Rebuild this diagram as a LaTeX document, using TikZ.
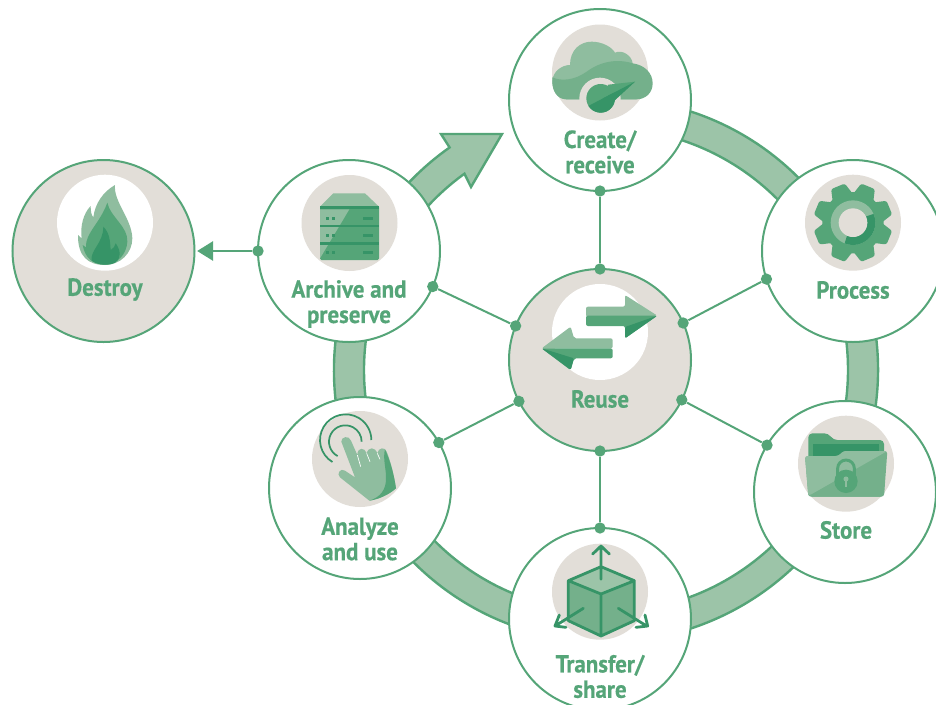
\documentclass[tikz,border=0pt]{standalone}
\usepackage{fontspec}
\setmainfont{PT Sans}[FakeStretch=0.93,BoldFeatures={FakeBold=0.5}]
\usetikzlibrary{
  	calc,
  	arrows.meta
  }
\definecolor{lineGreen}{HTML}{55A578}
\definecolor{bandGreen}{HTML}{9CC4A8}
\definecolor{paleGreen}{HTML}{8FBD9F}
\definecolor{midGreen}{HTML}{74B08B}
\definecolor{darkGreen}{HTML}{369467}
\definecolor{stone}{HTML}{E2DED8}
\tikzstyle{stage}=[circle,draw=lineGreen,line width=1.5pt,fill=white,minimum size=136.5pt,inner sep=0pt,outer sep=0pt]
\tikzstyle{disc}=[circle,fill=stone,minimum size=72pt,inner sep=0pt]
\tikzstyle{joint}=[circle,fill=lineGreen,minimum size=8.5pt,inner sep=0pt]
\tikzstyle{spoke}=[draw=lineGreen,line width=1.5pt]
\tikzstyle{caption}=[text=lineGreen,align=center,inner sep=0pt,font=\bfseries\fontsize{18.5}{19}\selectfont]
\tikzset{zoomed/.style 2 args={shift={(#1,#2)},x=.25pt,y=-.25pt}}

\begin{document}
\begin{tikzpicture}[x=.75pt,y=-.75pt]
\useasboundingbox (0,0) rectangle (936,704);
\coordinate (ringc) at (606,370);
\draw [lineGreen, fill=bandGreen, line width=1.8pt]
   ($(ringc)+(-78:272)$) arc[start angle=78,end angle=-234.9,radius=204pt] --
   (441,134) -- (502,134) -- (471,187) --
   ($(ringc)+(-125.8:242)$) arc[start angle=-234.2,end angle=78,radius=181.5pt] --
   cycle;

\node[stage] (create) at (600,100) {};
\node[stage] (process) at (853,251) {};
\node[stage] (store) at (845,492) {};
\node[stage] (transfer) at (600,619) {};
\node[stage] (analyze) at (360,488) {};
\node[stage] (archive) at (349,251) {};
\node[stage,fill=stone] (reuse) at (600,360) {};
\node[stage,fill=stone] (destroy) at (103.5,251) {};

\node[joint] (j1) at (create.south) {};
\node[joint] (j2) at (reuse.north) {};
\node[joint] (j3) at (process.198) {};
\node[joint] (j4) at (reuse.24) {};
\node[joint] (j5) at (store.149) {};
\node[joint] (j6) at (reuse.-26) {};
\node[joint] (j7) at (transfer.north) {};
\node[joint] (j8) at (reuse.south) {};
\node[joint] (j9) at (analyze.30) {};
\node[joint] (j10) at (reuse.207) {};
\node[joint] (j11) at (archive.-23) {};
\node[joint] (j12) at (reuse.158) {};
\node[joint] (j13) at (archive.west) {};
\path[spoke] (j1) -- (j2);
\path[spoke] (j3) -- (j4);
\path[spoke] (j5) -- (j6);
\path[spoke] (j7) -- (j8);
\path[spoke] (j9) -- (j10);
\path[spoke] (j11) -- (j12);
\draw[lineGreen,line width=1.5pt,-{Triangle[length=12pt,width=14.5pt]},shorten >=2pt] (j13) -- (destroy.east);

\node[disc] (createicon) at (600,72.5) {};
\node[disc] (processicon) at (853,222.7) {};
\node[disc] (storeicon) at (846,463.7) {};
\node[disc] (transfericon) at (600,591.7) {};
\node[disc] (analyzeicon) at (360,459) {};
\node[disc] (archiveicon) at (349.5,223) {};
\node[disc,fill=white] (reuseicon) at (600,332) {};
\node[disc,fill=white] (destroyicon) at (105,222.7) {};

\node[caption] (createtext) at (600,152) {Create/\\receive};
\node[caption] (processtext) at (853,290) {Process};
\node[caption] (storetext) at (846,530) {Store};
\node[caption] (transfertext) at (600,676.5) {Transfer/\\share};
\node[caption] (analyzetext) at (360,539) {Analyze\\and use};
\node[caption] (archivetext) at (349,304) {Archive and\\preserve};
\node[caption] (reusetext) at (600,399) {Reuse};
\node[caption] (destroytext) at (105,289.5) {Destroy};

\begin{scope}[zoomed={500}{0}]
\fill[paleGreen] (200,298) .. controls (170,298) and (157,270) .. (157,245)
   .. controls (157,215) and (185,195) .. (210,195) .. controls (210,150) and (240,125) .. (275,125)
   .. controls (305,125) and (335,140) .. (345,158) .. controls (365,148) and (395,165) .. (398,190)
   -- (410,298) -- cycle;
\fill[midGreen] (157,232) .. controls (185,245) and (225,240) .. (260,215)
   .. controls (300,185) and (350,175) .. (398,190) .. controls (435,195) and (458,220) .. (458,250)
   .. controls (458,280) and (435,298) .. (410,298) -- (200,298)
   .. controls (170,298) and (157,270) .. (157,245) -- cycle;
\fill[stone] (300,295) circle[radius=15.5pt];
\fill[lineGreen] (325,254) -- (405,245) -- (345,300) -- (302,295) -- cycle;
\fill[lineGreen] (302,295) circle[radius=10.75pt];
\begin{scope}
\clip (265,318) -- (405,245) -- (420,360) -- (260,360) -- cycle;
\fill[darkGreen] (325,254) -- (405,245) -- (345,300) -- (302,295) -- cycle;
\fill[darkGreen] (302,295) circle[radius=10.75pt];
\end{scope}
\end{scope}

\begin{scope}[zoomed={0}{130}]
\fill[paleGreen] (345,165) .. controls (340,215) and (395,265) .. (397,325)
   .. controls (397,370) and (360,405) .. (315,405) .. controls (265,405) and (233,380) .. (234,315)
   -- (245,325) .. controls (240,290) and (250,250) .. (272,228) .. controls (272,245) and (274,255) .. (280,262)
   .. controls (285,220) and (310,185) .. (345,165) -- cycle;
\fill[lineGreen] (322,218) .. controls (330,260) and (385,290) .. (382,335)
   .. controls (380,375) and (350,403) .. (315,404) .. controls (280,404) and (255,385) .. (248,345)
   -- (258,352) .. controls (255,310) and (300,280) .. (322,218) -- cycle;
\fill[darkGreen] (310,290) .. controls (330,310) and (330,335) .. (332,360)
   .. controls (340,355) and (345,350) .. (347,340) .. controls (362,360) and (365,385) .. (345,398)
   .. controls (330,407) and (295,407) .. (275,392) .. controls (270,360) and (310,340) .. (310,290) -- cycle;
\end{scope}

\begin{scope}[zoomed={0}{130}]
\fill[paleGreen] (960,230) -- (1000,190) -- (1095,190) -- (1137,230) -- cycle;
\fill[lineGreen, rounded corners=1pt] (960,228) rectangle (1137,390);
\fill[paleGreen] (960,238) -- (1048,238) -- (960,385) -- cycle;
\foreach \y in {233,288,340} {
  \fill[darkGreen] (960,\y-4) rectangle (1137,\y+4);
}
\foreach \y in {265,316,367} {
  \fill[darkGreen] (979,\y-4) rectangle (988,\y+4);
  \fill[darkGreen] (996,\y-4) rectangle (1005,\y+4);
  \fill[darkGreen] (1090,\y-4) rectangle (1118,\y+4);
}
\end{scope}

\begin{scope}[zoomed={750}{160}]
\coordinate (gearc) at (309,188);
\fill[lineGreen] (gearc) circle[radius=23pt];
\foreach \a in {22.5,67.5,...,337.5} {
  \fill[lineGreen,rounded corners=1.6pt,shift={(gearc)},rotate=\a] (75,-34) -- (118,-22) -- (118,22) -- (75,34) -- cycle;
}
\fill[paleGreen] (gearc) circle[radius=16.75pt];
\draw[darkGreen,line width=6pt] ($(gearc)+(-24:55)$) arc[start angle=24,end angle=-113,radius=13.75pt];
\fill[stone] (gearc) circle[radius=10.75pt];
\end{scope}

\begin{scope}[zoomed={740}{390}]
\fill[lineGreen,rounded corners=3pt] (205,320) -- (205,130) -- (265,130) -- (280,150) -- (432,150) -- (432,320) -- cycle;
\fill[darkGreen] (220,162) rectangle (416,210);
\fill[midGreen,rounded corners=2pt] (205,320) -- (195,198) -- (295,198) -- (310,183) -- (442,183) -- (432,320) -- cycle;
\fill[paleGreen,rounded corners=2pt] (205,318) -- (195,198) -- (295,198) -- (310,183) -- (442,183) -- cycle;
\draw[lineGreen,line width=2.2pt] (293,265) -- (293,235) arc[start angle=180,end angle=0,radius=6.25pt] -- (343,265);
\fill[lineGreen] (318,274) circle[radius=8.75pt];
\fill[paleGreen] (318,267) circle[radius=1.9pt];
\fill[paleGreen] (315,267) rectangle (321,290);
\end{scope}

\begin{scope}[zoomed={500}{520}]
\fill[bandGreen] (205,182) -- (303,140) -- (403,182) -- (303,222) -- cycle;
\fill[midGreen] (205,182) -- (303,222) -- (303,348) -- (205,302) -- cycle;
\fill[midGreen] (403,182) -- (303,222) -- (303,348) -- (403,302) -- cycle;
\draw[darkGreen,line width=2.1pt,line join=round,line cap=round]
   (205,182) -- (303,140) -- (403,182) -- (403,302) -- (303,348) -- (205,302) -- cycle
   (205,182) -- (303,222) -- (403,182)
   (303,222) -- (303,348)
   (303,178) -- (303,78)
   (278,102) -- (303,78) -- (328,102)
   (250,265) -- (165,318)
   (178,285) -- (165,318) -- (198,322)
   (355,265) -- (440,318)
   (435,285) -- (443,318) -- (408,322);
\end{scope}

\begin{scope}[zoomed={270}{390}]
\coordinate (arcout) at (227,150);
\coordinate (arcin) at (226,155);
\draw[darkGreen,line width=1.3pt] ($(arcout)+(-239:77)$) arc[start angle=239,end angle=0,radius=19.25pt];
\draw[darkGreen,line width=1.3pt] ($(arcin)+(-242:49)$) arc[start angle=242,end angle=0,radius=12.25pt];
\fill[paleGreen] (214,155) .. controls (212,140) and (238,135) .. (243,152) -- (262,195)
   .. controls (262,170) and (285,172) .. (290,190) .. controls (295,170) and (315,170) .. (322,190)
   .. controls (325,172) and (345,170) .. (350,185) .. controls (362,215) and (372,255) .. (378,295)
   .. controls (355,315) and (325,328) .. (298,332) -- (210,262)
   .. controls (198,252) and (212,232) .. (225,242) -- (255,262) -- cycle;
\fill[lineGreen] (345,178) .. controls (362,215) and (372,255) .. (378,295)
   .. controls (355,315) and (325,328) .. (298,332) .. controls (330,322) and (350,300) .. (348,260)
   .. controls (348,235) and (338,205) .. (345,178) -- cycle;
\draw[white,line width=.5pt] (262,195) -- (272,230) (290,190) -- (300,215) (322,190) -- (330,208);
\end{scope}

\begin{scope}[zoomed={500}{265}]
\fill[paleGreen,rounded corners=1.5pt] (258,155) -- (258,125) -- (375,125) -- (375,90) -- (472,152) -- (375,155) -- cycle;
\fill[lineGreen,rounded corners=1.5pt] (258,152) -- (375,152) -- (472,152) -- (375,220) -- (375,183) -- (258,183) -- cycle;
\fill[darkGreen,rounded corners=1pt] (375,186) -- (472,152) -- (375,220) -- cycle;
\fill[paleGreen,rounded corners=1.5pt] (338,250) -- (338,220) -- (222,220) -- (212,185) -- (125,250) -- (222,250) -- cycle;
\fill[lineGreen,rounded corners=1.5pt] (338,250) -- (125,250) -- (212,315) -- (222,280) -- (338,280) -- cycle;
\fill[darkGreen,rounded corners=1pt] (125,250) -- (222,280) -- (212,315) -- cycle;
\end{scope}
\end{tikzpicture}
\end{document}
